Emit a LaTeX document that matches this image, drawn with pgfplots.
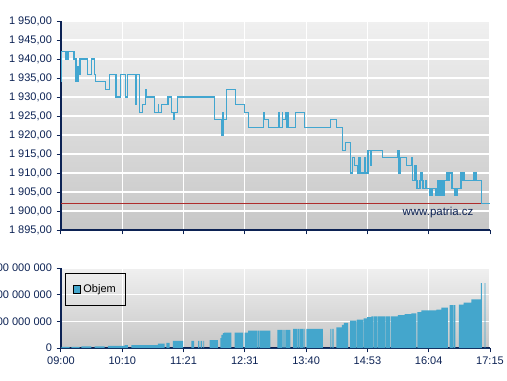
\documentclass[border=0pt]{standalone}
\usepackage{fontspec}
\setmainfont{Liberation Sans}
\usepackage{pgfplots}
\pgfplotsset{compat=1.18}
\definecolor{navy}{RGB}{12,34,84}
\definecolor{pxblue}{RGB}{66,166,208}
\definecolor{barblue}{RGB}{68,166,204}
\definecolor{refred}{RGB}{175,45,45}
\definecolor{bgtop}{RGB}{240,240,240}
\definecolor{bgbot}{RGB}{199,199,199}
\pgfplotsset{
  common/.style={
    scale only axis, width=321.75pt, xmin=0, xmax=495,
    enlargelimits=false,
    axis x line*=bottom, axis y line*=left,
    axis line style={navy, line width=0.9pt, -},
    tick style={navy, line width=0.75pt},
    major tick length=3.3pt,
    tick align=outside,
    xtick={0,70.714,141.429,212.143,282.857,353.571,424.286,495},
    grid=major, grid style={white, line width=0.8pt},
    axis background/.style={top color=bgtop, bottom color=bgbot},
    tick label style={font=\fontsize{8.25pt}{9pt}\selectfont, text=navy},
    /pgf/number format/assume math mode=true,
  }
}
\begin{document}
\begin{tikzpicture}
% ---------- price ----------
\begin{axis}[common,
  at={(45.75pt,112.5pt)}, anchor=south west, height=156.75pt,
  ymin=1895, ymax=1950,
  ytick={1895,1900,1905,1910,1915,1920,1925,1930,1935,1940,1945,1950},
  yticklabels={{1 895,00},{1 900,00},{1 905,00},{1 910,00},{1 915,00},{1 920,00},{1 925,00},{1 930,00},{1 935,00},{1 940,00},{1 945,00},{1 950,00}},
  xticklabels={},
]
\addplot[refred, line width=0.7pt] coordinates {(0,1902) (495,1902)};
\addplot[pxblue, line width=0.9pt, const plot mark left] coordinates {
(0,1934) (0.35,1942) (5.8,1940) (8.1,1942) (15.0,1940) (17.3,1934) (18.1,1938) (18.8,1934) (19.6,1938) (21.1,1936) (21.9,1940)
(30.3,1936) (35.4,1940) (38.9,1936) (40.0,1934) (51.6,1932) (56.2,1936) (63.5,1930) (68.4,1936) (74.2,1930) (77.0,1936)
(85.7,1928) (86.5,1936) (90.3,1926) (94.3,1928) (97.3,1932) (98.1,1930) (107.7,1926) (112.3,1928) (112.9,1926) (116.2,1928)
(123.5,1930) (127.3,1926) (129.6,1924) (130.4,1926) (134.2,1930) (176.9,1924) (185.4,1920) (186.0,1926) (186.9,1920)
(187.7,1924) (190.7,1932) (201.1,1928) (211.5,1926) (216.1,1922) (233.4,1926) (234.6,1924) (239.2,1922) (251.5,1926)
(252.1,1922) (255.3,1926) (255.9,1924) (259.6,1926) (260.4,1922) (261.2,1926) (261.9,1922) (270.3,1926) (280.7,1922)
(310.7,1924) (317.6,1922) (324.6,1916) (328.0,1918) (333.8,1910) (336.6,1914) (338.9,1912) (342.7,1910) (343.8,1914)
(345.0,1910) (349.9,1914) (350.7,1910) (354.2,1916) (357.1,1912) (357.7,1916) (370.7,1914) (388.0,1916) (390.0,1910)
(391.9,1914) (398.8,1912) (404.6,1914) (405.3,1908) (408.4,1912) (409.6,1908) (410.8,1906) (414.2,1908) (415.4,1910)
(416.5,1908) (417.7,1906) (421.2,1908) (422.0,1906) (425.8,1904) (428.1,1906) (432.7,1904) (435.0,1908) (436.2,1904)
(437.3,1908) (438.5,1904) (439.6,1908) (440.8,1904) (441.9,1908) (445.4,1910) (446.2,1908) (447.7,1910) (451.2,1906)
(454.6,1904) (457.0,1906) (461.5,1910) (462.7,1908) (463.8,1910) (465.0,1908) (476.5,1910) (478.8,1908) (485.2,1902)
(495,1902)};
\node[font=\fontsize{8.6pt}{10pt}\selectfont, text=navy] at (axis cs:435,1899.6) {www.patria.cz};
\end{axis}
% ---------- volume ----------
\begin{axis}[common,
  at={(45.75pt,24pt)}, anchor=south west, height=60pt,
  ymin=0, ymax=3,
  ytick={0,1,2,3},
  yticklabels={0,{1 000 000 000},{2 000 000 000},{3 000 000 000}},
  xticklabels={09:00,10:10,11:21,12:31,13:40,14:53,16:04,17:15},
  legend style={at={(rel axis cs:0.0093,0.934)}, anchor=north west, draw=black, line width=0.6pt,
    fill=none, font=\fontsize{8.25pt}{9pt}\selectfont, inner xsep=5.5pt, inner ysep=6pt},
  legend image code/.code={\draw[fill=barblue, draw=black, line width=0.6pt] (0pt,-2.7pt) rectangle (5.4pt,2.7pt);},
]
\addplot[const plot mark left, fill=barblue, draw=none] coordinates {
(0,0) (0.4,0.04) (10.0,0) (11.9,0.04) (21.5,0) (23.5,0.06) (35.0,0) (38.8,0.06) (50.4,0) (54.2,0.08) (73.5,0.11)
(77.3,0) (81.2,0.11) (111.9,0.16) (119.6,0) (121.5,0.19) (125.4,0) (129.2,0.27) (140.8,0) (150.4,0.27) (153.5,0)
(158.1,0.27) (159.6,0) (161.2,0.27) (162.7,0) (164.2,0.27) (165.0,0) (171.5,0.30) (181.1,0) (183.8,0.37) (185.0,0.49)
(186.9,0.56) (188.1,0.58) (196.5,0) (200.4,0.58) (210.0,0) (211.9,0.58) (215.8,0.65) (226.5,0) (227.3,0.65) (228.8,0)
(229.6,0.65) (241.5,0) (249.6,0.68) (255.8,0) (256.5,0.68) (258.1,0) (258.8,0.68) (264.6,0) (267.7,0.72) (272.7,0)
(273.3,0.72) (275.4,0) (276.0,0.72) (279.2,0) (279.8,0.72) (281.2,0) (283.1,0.72) (302.3,0) (310.8,0.72) (311.9,0)
(313.1,0.72) (314.6,0) (317.7,0.77) (324.2,0.87) (326.5,0.94) (331.2,0) (333.5,1.03) (340.8,0) (341.5,1.06) (348.5,0)
(349.2,1.11) (353.1,1.16) (358.1,1.19) (360.4,0) (361.0,1.19) (365.0,0) (365.6,1.19) (373.8,0) (374.4,1.19) (379.6,0)
(380.2,1.19) (388.8,1.23) (396.5,1.27) (404.2,1.30) (410.0,0) (411.2,1.35) (415.8,1.41) (433.1,1.44) (438.8,1.51)
(446.5,0) (448.5,1.61) (452.7,0) (453.3,1.61) (455.0,0) (459.2,1.63) (464.6,1.70) (473.5,1.82) (484.6,2.43) (485.6,0)
(488.8,2.43) (489.8,0) (495,0)} \closedcycle;
\addlegendentry{Objem}
\end{axis}
\pgfresetboundingbox
\useasboundingbox (0,0) rectangle (380.25pt,285pt);
\end{tikzpicture}
\end{document}
